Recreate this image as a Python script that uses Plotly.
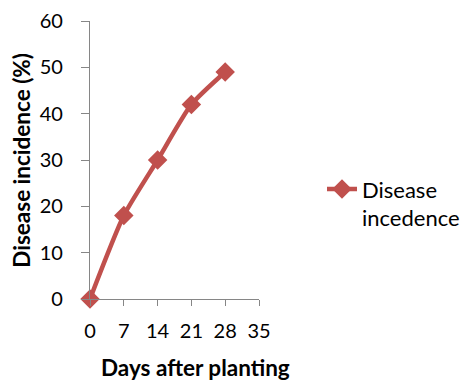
import plotly.graph_objects as go

days = [0, 7, 14, 21, 28]
incidence = [0, 18, 30, 42, 49]
x_ticks = [0, 7, 14, 21, 28, 35]
y_ticks = [0, 10, 20, 30, 40, 50, 60]
series_name = "Disease<br>incedence"
x_title = "Days after planting"
y_title = "Disease incidence (%)"

red = "#C0504D"
axis_grey = "#868686"
font_family = "Lato, 'Open Sans', sans-serif"

fig = go.Figure()
fig.add_trace(go.Scatter(
    x=days, y=incidence, name=series_name,
    mode="lines+markers",
    line=dict(color=red, width=4.5, shape="spline", smoothing=0.6),
    marker=dict(symbol="diamond", size=15, color=red),
    showlegend=True,
    cliponaxis=False,
))

fig.update_layout(
    width=466, height=380,
    margin=dict(l=90, r=207, t=21, b=81, autoexpand=False),
    paper_bgcolor="white", plot_bgcolor="white",
    font=dict(family=font_family, size=19, color="black"),
    legend=dict(xref="container", yref="container",
                x=0.691, y=0.464, xanchor="left", yanchor="middle",
                valign="top", font=dict(size=22), bgcolor="rgba(0,0,0,0)"),
    xaxis=dict(
        range=[0, 35], tickvals=x_ticks, showgrid=False, zeroline=False,
        showline=True, linecolor=axis_grey, linewidth=1.3,
        ticks="outside", ticklen=6, tickcolor=axis_grey, tickwidth=1.3,
        tickfont=dict(size=20), ticklabelstandoff=8,
    ),
    yaxis=dict(
        range=[0, 60], tickvals=y_ticks, showgrid=False, zeroline=False,
        showline=True, linecolor=axis_grey, linewidth=1.3,
        ticks="outside", ticklen=8, tickcolor=axis_grey, tickwidth=1.3,
        tickfont=dict(size=20), ticklabelstandoff=14,
    ),
    annotations=[
        dict(text=f"<b>{x_title}</b>", xref="paper", yref="paper",
             x=0.624, y=-0.19, xanchor="center", yanchor="top",
             showarrow=False, font=dict(size=22.5)),
        dict(text=f"<b>{y_title}</b>", xref="paper", yref="paper",
             x=-0.41, y=0.5, xanchor="center", yanchor="middle",
             textangle=-90, showarrow=False, font=dict(size=22.5)),
    ],
)

fig.write_html("out.html")
